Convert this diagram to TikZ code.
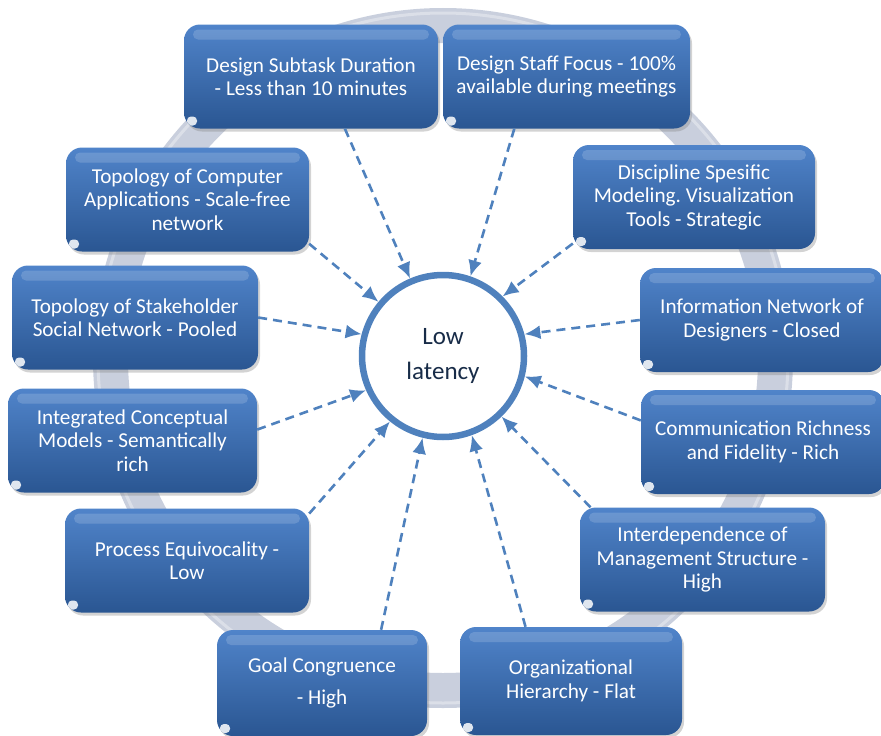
\documentclass[tikz,border=0pt]{standalone}
\usepackage{fontspec}
\setmainfont{Carlito}
\usetikzlibrary{shapes,arrows.meta,shadows}

\definecolor{boxtop}{RGB}{80,132,202}
\definecolor{boxbot}{RGB}{42,86,146}
\definecolor{linkblue}{RGB}{79,129,189}
\definecolor{ringgrey}{RGB}{201,207,221}
\definecolor{hubtext}{RGB}{24,44,72}

\begin{document}
\begin{tikzpicture}[x=1pt,y=-1pt,>={Latex[length=16pt,width=14pt]}]
\tikzstyle{every node}=[font=\fontsize{21.2}{23.5}\selectfont\frenchspacing]
\tikzstyle{factor}=[rounded corners=16pt, top color=boxtop, bottom color=boxbot,
  text=white, align=center, minimum width=244pt, minimum height=104pt, inner sep=0pt,
  drop shadow={shadow xshift=2pt, shadow yshift=-3pt, opacity=.35},
  path picture={
    % glossy band along the top
    \fill[white,opacity=.16,rounded corners=5pt]
      ([xshift=9pt,yshift=-5pt]path picture bounding box.north west) rectangle
      ([xshift=-9pt,yshift=-15pt]path picture bounding box.north east);
    % small reflection in the lower left corner
    \fill[white,opacity=.85,rounded corners=4pt]
      ([xshift=3pt,yshift=3pt]path picture bounding box.south west) rectangle
      ([xshift=13pt,yshift=12pt]path picture bounding box.south west);
  }]
\tikzstyle{link}=[->, draw=linkblue, line width=2.6pt, dash pattern=on 9pt off 6pt]
\tikzstyle{hub}=[circle, draw=linkblue, line width=6.5pt, fill=white, minimum size=162pt,
  inner sep=0pt, text=hubtext, align=center, font=\fontsize{25}{35}\selectfont]

\useasboundingbox (0,0) rectangle (881,736);

% grey ring behind everything
\draw[ringgrey,line width=35pt] (443,358) circle[radius=332.5pt];
\draw[white,opacity=.35,line width=3pt] (443,358) circle[radius=345pt];

\node[factor,minimum width=254pt] (1) at (311,76.5) {Design Subtask Duration\\- Less than 10 minutes};
\node[factor,minimum width=247pt] (2) at (566.5,76.5) {Design Staff Focus - 100\%\\available during meetings};
\node[factor,minimum width=242pt] (3) at (694,197) {Discipline Spesific\\Modeling. Visualization\\Tools - Strategic};
\node[factor,minimum width=244pt] (4) at (762,320) {Information Network of\\Designers - Closed};
\node[factor,minimum width=244pt] (5) at (763,442) {Communication Richness\\and Fidelity - Rich};
\node[factor,minimum width=245pt] (6) at (702.5,559.5) {Interdependence of\\Management Structure -\\High};
\node[factor,minimum width=222pt,minimum height=108pt] (7) at (571,681) {Organizational\\Hierarchy - Flat};
\node[factor,minimum width=210pt,minimum height=106pt] (8) at (322,683) {Goal Congruence\\[9pt]- High};
\node[factor,minimum width=244pt] (9) at (187,560.5) {Process Equivocality -\\Low};
\node[factor,minimum width=249pt] (10) at (132.5,440.5) {Integrated Conceptual\\Models - Semantically\\rich};
\node[factor,minimum width=246pt] (11) at (135,317.5) {Topology of Stakeholder\\Social Network - Pooled};
\node[factor,minimum width=243pt] (12) at (187.5,199.5) {Topology of Computer\\Applications - Scale-free\\network};

\node[hub] (L) at (443,356) {Low\\latency};

\path (1.-57) edge[link] (L.113)
      (2.-135) edge[link] (L.71)
      (3.-159) edge[link] (L.45)
      (4.180) edge[link] (L.15)
      (5.170) edge[link] (L.-14)
      (6.155) edge[link] (L.-46)
      (7.130) edge[link] (L.-70)
      (8.42) edge[link] (L.-104)
      (9.21) edge[link] (L.-129)
      (10.5) edge[link] (L.-156)
      (11.0) edge[link] (L.165)
      (12.-20) edge[link] (L.140);
\end{tikzpicture}
\end{document}
